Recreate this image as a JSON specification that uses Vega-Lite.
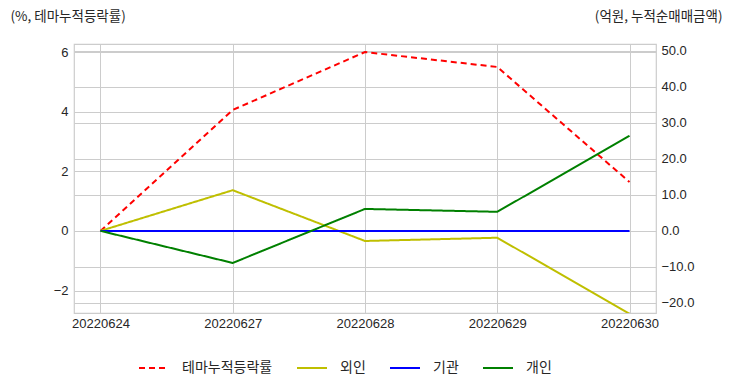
{
  "$schema": "https://vega.github.io/schema/vega-lite/v6.json",
  "width": 582,
  "height": 269,
  "autosize": {"type": "none"},
  "padding": {"left": 74, "top": 44, "right": 76, "bottom": 79},
  "background": "white",
  "config": {
    "font": "Liberation Sans, Noto Sans CJK KR, sans-serif",
    "view": {"stroke": "#cccccc", "strokeWidth": 1.2},
    "axis": {
      "labelFont": "Liberation Sans, Noto Sans CJK KR, sans-serif",
      "labelFontSize": 13,
      "labelColor": "#262626",
      "gridColor": "#cccccc",
      "gridWidth": 1,
      "domain": false,
      "ticks": false,
      "titleFont": "Noto Sans CJK KR, sans-serif",
      "titleFontSize": 13.5,
      "titleFontWeight": "normal",
      "titleColor": "#262626"
    },
    "legend": {
      "labelFont": "Noto Sans CJK KR, sans-serif",
      "labelFontSize": 14,
      "labelColor": "#262626"
    }
  },
  "data": {
    "values": [
      {"date": "20220624", "series": "테마누적등락률", "value": 0},
      {"date": "20220627", "series": "테마누적등락률", "value": 4.06},
      {"date": "20220628", "series": "테마누적등락률", "value": 6.0},
      {"date": "20220629", "series": "테마누적등락률", "value": 5.5},
      {"date": "20220630", "series": "테마누적등락률", "value": 1.64},
      {"date": "20220624", "series": "외인", "value": 0},
      {"date": "20220627", "series": "외인", "value": 11.3},
      {"date": "20220628", "series": "외인", "value": -2.8},
      {"date": "20220629", "series": "외인", "value": -1.9},
      {"date": "20220630", "series": "외인", "value": -23.0},
      {"date": "20220624", "series": "기관", "value": 0},
      {"date": "20220627", "series": "기관", "value": 0},
      {"date": "20220628", "series": "기관", "value": 0},
      {"date": "20220629", "series": "기관", "value": 0},
      {"date": "20220630", "series": "기관", "value": 0},
      {"date": "20220624", "series": "개인", "value": 0},
      {"date": "20220627", "series": "개인", "value": -8.9},
      {"date": "20220628", "series": "개인", "value": 6.1},
      {"date": "20220629", "series": "개인", "value": 5.3},
      {"date": "20220630", "series": "개인", "value": 26.4}
    ]
  },
  "encoding": {
    "x": {
      "field": "date",
      "type": "ordinal",
      "scale": {"type": "point", "padding": 0.2},
      "axis": {"title": null, "labelAngle": 0, "labelPadding": 4, "grid": true}
    },
    "color": {
      "field": "series",
      "type": "nominal",
      "scale": {
        "domain": ["테마누적등락률", "외인", "기관", "개인"],
        "range": ["#ff0000", "#bfbf00", "#0000ff", "#008000"]
      },
      "legend": {
        "title": null,
        "orient": "none",
        "legendX": 64,
        "legendY": 308,
        "direction": "horizontal",
        "symbolType": "stroke",
        "symbolSize": 900,
        "symbolStrokeWidth": 2,
        "labelOffset": 12,
        "columnPadding": 20
      }
    },
    "strokeDash": {
      "field": "series",
      "type": "nominal",
      "scale": {
        "domain": ["테마누적등락률", "외인", "기관", "개인"],
        "range": [[6, 4], [1, 0], [1, 0], [1, 0]]
      },
      "legend": {
        "title": null,
        "orient": "none",
        "legendX": 64,
        "legendY": 308,
        "direction": "horizontal",
        "symbolType": "stroke",
        "symbolSize": 900,
        "symbolStrokeWidth": 2,
        "labelOffset": 12,
        "columnPadding": 20
      }
    }
  },
  "layer": [
    {
      "transform": [{"filter": "datum.series === '테마누적등락률'"}],
      "mark": {"type": "line", "strokeWidth": 2, "clip": true},
      "encoding": {
        "y": {
          "field": "value",
          "type": "quantitative",
          "scale": {"domain": [-2.75, 6.27], "nice": false, "zero": false},
          "axis": {
            "values": [-2, 0, 2, 4, 6],
            "format": "d",
            "grid": true,
            "labelPadding": 6,
            "title": "(%, 테마누적등락률)",
            "titleAngle": 0,
            "titleAlign": "left",
            "titleBaseline": "middle",
            "titleX": -64,
            "titleY": -28
          }
        }
      }
    },
    {
      "transform": [{"filter": "datum.series !== '테마누적등락률'"}],
      "mark": {"type": "line", "strokeWidth": 2, "clip": true},
      "encoding": {
        "y": {
          "field": "value",
          "type": "quantitative",
          "scale": {"domain": [-22.8, 51.9], "nice": false, "zero": false},
          "axis": {
            "orient": "right",
            "values": [-20, -10, 0, 10, 20, 30, 40, 50],
            "format": ".1f",
            "grid": true,
            "labelPadding": 5,
            "title": "(억원, 누적순매매금액)",
            "titleAngle": 0,
            "titleAlign": "right",
            "titleBaseline": "middle",
            "titleX": 66,
            "titleY": -28
          }
        }
      }
    }
  ],
  "resolve": {"scale": {"y": "independent"}}
}
